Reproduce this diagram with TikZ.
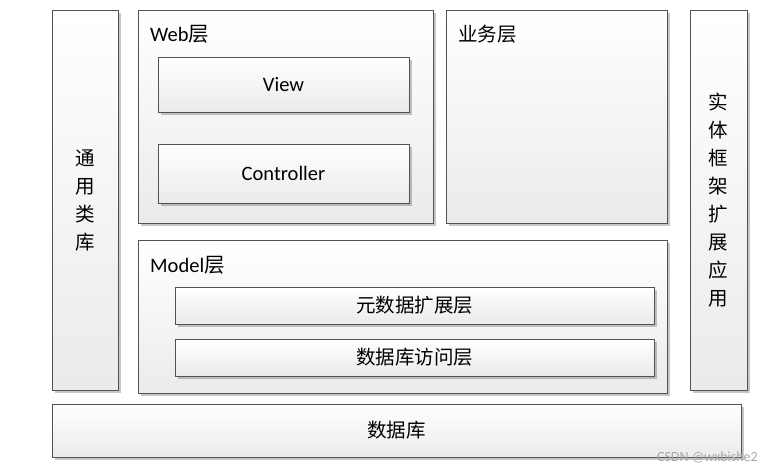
\documentclass[tikz,border=0pt]{standalone}
\usepackage{fontspec}
\setmainfont{Carlito}
\newfontfamily\cjk{Noto Sans CJK SC}
\usetikzlibrary{shadows,positioning}
\begin{document}
\begin{tikzpicture}[x=1pt,y=-1pt,
  layerbox/.style={draw=black!68, line width=0.8pt, top color=white, bottom color=black!8,
    drop shadow={shadow xshift=2.5pt, shadow yshift=-2.5pt, opacity=0.22, fill=black},
    inner sep=0pt, outer sep=0pt, anchor=north west},
  boxtext/.style={font=\fontsize{20.5}{28}\selectfont, align=center},
  cjktext/.style={font=\cjk\fontsize{19.5}{28}\selectfont, align=center},
  layerlabel/.style={font=\fontsize{20.5}{24}\selectfont, inner sep=0pt, anchor=west}]
\useasboundingbox (0,0) rectangle (773,472);
\node [layerbox, cjktext, minimum width=66, minimum height=380] (common) at (52,10) {通\\用\\类\\库};
\node [layerbox, minimum width=295, minimum height=213] (web) at (138,10) {};
\node [layerlabel] (weblabel) at ([xshift=12pt,yshift=-24pt]web.north west) {Web{\cjk 层}};
\node [layerbox, boxtext, minimum width=251, minimum height=55] (view) at (158,57) {View};
\node [layerbox, boxtext, minimum width=251, minimum height=59] (controller) at (158,144) {Controller};
\node [layerbox, minimum width=221, minimum height=213] (biz) at (446,10) {};
\node [layerlabel, font=\cjk\fontsize{19.5}{24}\selectfont] (bizlabel) at ([xshift=12pt,yshift=-24pt]biz.north west) {业务层};
\node [layerbox, cjktext, minimum width=57, minimum height=380] (entity) at (690,10) {实\\体\\框\\架\\扩\\展\\应\\用};
\node [layerbox, minimum width=529, minimum height=153] (model) at (138,240) {};
\node [layerlabel] (modellabel) at ([xshift=12pt,yshift=-25pt]model.north west) {Model{\cjk 层}};
\node [layerbox, cjktext, minimum width=479, minimum height=37] (meta) at (175,287) {元数据扩展层};
\node [layerbox, cjktext, minimum width=479, minimum height=37] (access) at (175,339) {数据库访问层};
\node [layerbox, cjktext, minimum width=689, minimum height=53] (db) at (52,404) {数据库};
\node [anchor=east, inner sep=0pt, text=black!35, font=\fontsize{14}{16}\selectfont] (mark) at (758,457) {CSDN @wxbishe2};
\end{tikzpicture}
\end{document}
